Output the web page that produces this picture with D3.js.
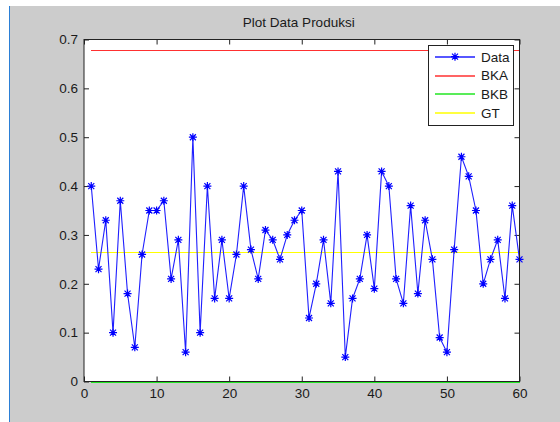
<!DOCTYPE html>
<html>
<head>
<meta charset="utf-8">
<script src="https://cdn.jsdelivr.net/npm/d3@7"></script>
<style>
  body { margin: 0; background: #fff; }
  text { font-family: "Liberation Sans", Arial, sans-serif; fill: #1a1a1a; }
</style>
</head>
<body>
<div id="chart"></div>
<script>
// data produksi, index 1..60
const produksi = [
  0.40, 0.23, 0.33, 0.10, 0.37, 0.18, 0.07, 0.26, 0.35, 0.35,
  0.37, 0.21, 0.29, 0.06, 0.50, 0.10, 0.40, 0.17, 0.29, 0.17,
  0.26, 0.40, 0.27, 0.21, 0.31, 0.29, 0.25, 0.30, 0.33, 0.35,
  0.13, 0.20, 0.29, 0.16, 0.43, 0.05, 0.17, 0.21, 0.30, 0.19,
  0.43, 0.40, 0.21, 0.16, 0.36, 0.18, 0.33, 0.25, 0.09, 0.06,
  0.27, 0.46, 0.42, 0.35, 0.20, 0.25, 0.29, 0.17, 0.36, 0.25
];
const BKA = 0.677;
const BKB = 0;
const GT = 0.263;
const xTicks = [0, 10, 20, 30, 40, 50, 60];
const yTicks = [0, 0.1, 0.2, 0.3, 0.4, 0.5, 0.6, 0.7];
const legendItems = ["Data", "BKA", "BKB", "GT"];

const W = 560, H = 422;
const svg = d3.select("#chart").append("svg")
  .attr("width", W).attr("height", H);

// figure background
svg.append("rect").attr("x", 9).attr("y", 6).attr("width", W - 9).attr("height", H - 6)
  .attr("fill", "#cccccc");
svg.append("line").attr("x1", 9.5).attr("x2", 9.5).attr("y1", 6).attr("y2", H)
  .attr("stroke", "#2b7fd6").attr("stroke-width", 1);

const axL = 84, axR = 519.5, axT = 39.5, axB = 381.5;
const x = d3.scaleLinear().domain([0, 60]).range([axL, axR]);
const y = d3.scaleLinear().domain([0, 0.7]).range([axB, axT]);

svg.append("rect").attr("x", axL).attr("y", axT)
  .attr("width", axR - axL).attr("height", axB - axT)
  .attr("fill", "#fff");

const fmt = d => d === 0 ? "0" : d3.format(".1f")(d);

svg.append("g").attr("transform", "translate(0," + axB + ")")
  .call(d3.axisBottom(x).tickValues(xTicks).tickSizeInner(-5).tickSizeOuter(0).tickPadding(7));
svg.append("g").attr("transform", "translate(" + axL + ",0)")
  .call(d3.axisLeft(y).tickValues(yTicks).tickFormat(fmt).tickSizeInner(-5).tickSizeOuter(0).tickPadding(6));
svg.append("g").attr("transform", "translate(0," + axT + ")")
  .call(d3.axisTop(x).tickValues(xTicks).tickFormat("").tickSizeInner(-5).tickSizeOuter(0));
svg.append("g").attr("transform", "translate(" + axR + ",0)")
  .call(d3.axisRight(y).tickValues(yTicks).tickFormat("").tickSizeInner(-5).tickSizeOuter(0));

svg.selectAll(".domain").remove();
svg.selectAll(".tick line").attr("stroke", "#222");
svg.selectAll(".tick text").style("font-size", "13.5px").attr("fill", "#1a1a1a")
  .style("font-family", "'Liberation Sans', Arial, sans-serif");

// reference lines
const refLines = [
  { v: BKA, c: "#ff3030" },
  { v: BKB, c: "#22e622" },
  { v: GT, c: "#ffff00" }
];
svg.selectAll(".ref").data(refLines).enter().append("line")
  .attr("x1", x(1)).attr("x2", x(60))
  .attr("y1", d => Math.round(y(d.v)) - 0.5).attr("y2", d => Math.round(y(d.v)) - 0.5)
  .attr("stroke", d => d.c).attr("stroke-width", d => d.v === 0 ? 2 : 1.5)
  .attr("shape-rendering", "crispEdges");

// data line
const pts = produksi.map((v, i) => ({ i: i + 1, v: v }));
const line = d3.line().x(d => x(d.i)).y(d => y(d.v));
svg.append("path").datum(pts).attr("d", line)
  .attr("fill", "none").attr("stroke", "#1f1fff").attr("stroke-width", 1.1);

const star = "M-4,0H4M0,-4V4M-3,-3L3,3M-3,3L3,-3";
svg.selectAll(".mk").data(pts).enter().append("path")
  .attr("transform", d => "translate(" + x(d.i) + "," + y(d.v) + ")")
  .attr("d", star).attr("fill", "none").attr("stroke", "#0000ff").attr("stroke-width", 1.2);

// axes box
svg.append("rect").attr("x", axL).attr("y", axT)
  .attr("width", axR - axL).attr("height", axB - axT)
  .attr("fill", "none").attr("stroke", "#222").attr("stroke-width", 1);

// title
svg.append("text").attr("x", (axL + axR) / 2 - 3).attr("y", 27)
  .attr("text-anchor", "middle").style("font-size", "13.5px").text("Plot Data Produksi");

// legend
const lg = svg.append("g");
lg.append("rect").attr("x", 428.5).attr("y", 45.5).attr("width", 85).attr("height", 80)
  .attr("fill", "#fff").attr("stroke", "#222");
const lgColors = ["#1f1fff", "#ff3030", "#22e622", "#ffff00"];
const lgY = d3.scalePoint().domain(legendItems).range([56.7, 113.3]);
legendItems.forEach((name, k) => {
  lg.append("line").attr("x1", 435).attr("x2", 475)
    .attr("y1", Math.round(lgY(name))).attr("y2", Math.round(lgY(name)))
    .attr("stroke", lgColors[k]).attr("stroke-width", 1.6);
  if (k === 0) {
    lg.append("path").attr("transform", "translate(455," + lgY(name) + ")")
      .attr("d", star).attr("fill", "none").attr("stroke", "#0000ff").attr("stroke-width", 1.2);
  }
  lg.append("text").attr("x", 481).attr("y", lgY(name)).attr("dy", "0.36em")
    .style("font-size", "13.5px").text(name);
});
</script>
</body>
</html>
